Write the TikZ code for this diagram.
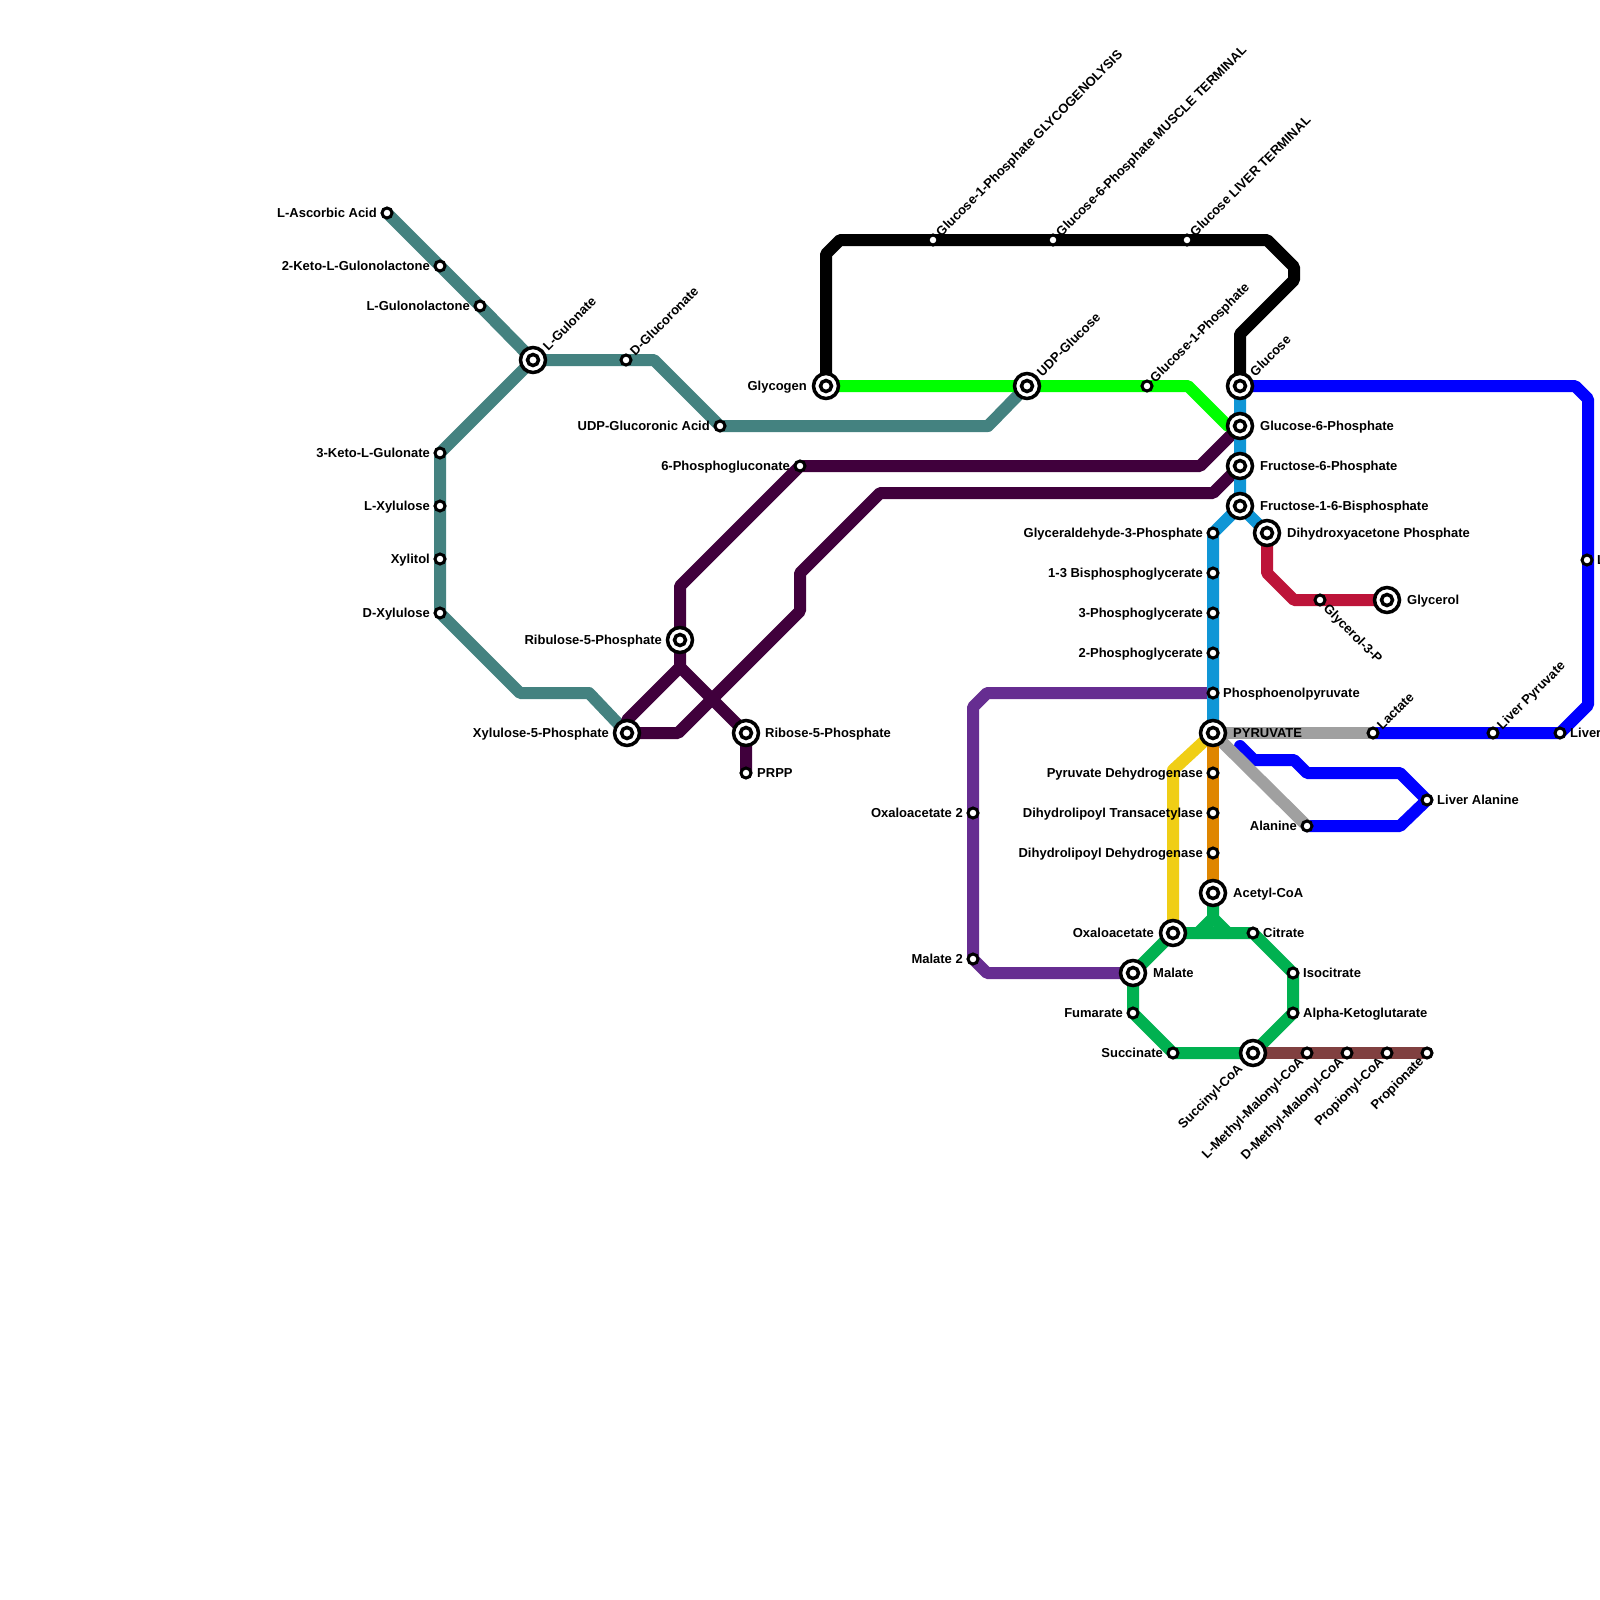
\documentclass[tikz,border=0pt]{standalone}
\usepackage{fontspec}
\setmainfont{Liberation Sans}
\pgfdeclarelayer{bg}
\pgfsetlayers{bg,main}
\definecolor{teal2}{RGB}{68,130,128}
\definecolor{dpurple}{RGB}{64,0,60}
\definecolor{lime2}{RGB}{0,255,0}
\definecolor{blue2}{RGB}{0,0,255}
\definecolor{cyan2}{RGB}{16,150,214}
\definecolor{crimson2}{RGB}{189,20,57}
\definecolor{purple2}{RGB}{102,45,145}
\definecolor{yellow2}{RGB}{240,206,21}
\definecolor{orange2}{RGB}{223,134,0}
\definecolor{green2}{RGB}{0,177,80}
\definecolor{grey2}{RGB}{160,160,160}
\definecolor{brown2}{RGB}{128,64,64}
\tikzset{
  ln/.style={line width=12pt, line cap=round, line join=round},
  st/.style={circle, draw=black, line width=3pt, fill=white, minimum size=10pt, inner sep=0pt},
  icout/.style={circle, draw=black, line width=3.5pt, fill=white, minimum size=25pt, inner sep=0pt},
  icin/.style={circle, draw=black, line width=3.5pt, fill=white, minimum size=11pt, inner sep=0pt},
  lbl/.style={font=\bfseries\fontsize{13}{15}\selectfont, inner sep=0pt, text height=9.3pt, text depth=0pt},
  L/.style={lbl, anchor=east},
  R/.style={lbl, anchor=west},
  U/.style={lbl, anchor=west, rotate=45},
  D/.style={lbl, anchor=east, rotate=45},
  DR/.style={lbl, anchor=west, rotate=-45}
}
\newcommand{\ic}[2]{\node[icout] (#1) at (#2) {}; \node[icin] (#1-i) at (#2) {};}
\begin{document}
\begin{tikzpicture}[x=1pt,y=-1pt]
\useasboundingbox (0,0) rectangle (1600,1600);
% ---------- stations ----------
% teal
\node[st] (asc) at (387,213) {};
\node[st] (kgl) at (440,266) {};
\node[st] (glt) at (480,306) {};
\ic{gul}{533,360}
\node[st] (dgc) at (626,360) {};
\node[st] (udpga) at (720,426) {};
\node[st] (kgu) at (440,453) {};
\node[st] (lxy) at (440,506) {};
\node[st] (xyl) at (440,559) {};
\node[st] (dxy) at (440,613) {};
\ic{x5p}{627,733}
% dark purple
\node[st] (pg6) at (800,466) {};
\ic{ru5p}{680,640}
\ic{r5p}{746,733}
\node[st] (prpp) at (746,773) {};
% black
\ic{glyc}{826,386}
\node[st] (g1pg) at (933,240) {};
\node[st] (g6pm) at (1053,240) {};
\node[st] (gliv) at (1187,240) {};
\ic{glu}{1240,386}
% lime
\ic{udpg}{1027,386}
\node[st] (g1p) at (1147,386) {};
% cyan
\ic{g6p}{1240,426}
\ic{f6p}{1240,466}
\ic{f16}{1240,506}
\node[st] (gap) at (1213,533) {};
\ic{dhap}{1267,533}
\node[st] (bpg) at (1213,573) {};
\node[st] (pg3) at (1213,613) {};
\node[st] (pg2) at (1213,653) {};
\node[st] (pep) at (1213,693) {};
\ic{pyr}{1213,733}
% red
\node[st] (g3p) at (1320,600) {};
\ic{glol}{1387,600}
% blue / grey
\node[st] (lac) at (1373,733) {};
\node[st] (lpyr) at (1493,733) {};
\node[st] (liv) at (1560,733) {};
\node[st] (lgl) at (1587,560) {};
\node[st] (lala) at (1427,800) {};
\node[st] (ala) at (1307,826) {};
% orange
\node[st] (pdh) at (1213,773) {};
\node[st] (dlt) at (1213,813) {};
\node[st] (dld) at (1213,853) {};
\ic{acoa}{1213,893}
% TCA
\ic{oaa}{1173,933}
\node[st] (cit) at (1253,933) {};
\node[st] (icit) at (1293,973) {};
\node[st] (akg) at (1293,1013) {};
\ic{scoa}{1253,1053}
\node[st] (succ) at (1173,1053) {};
\node[st] (fum) at (1133,1013) {};
\ic{mal}{1133,973}
% brown
\node[st] (lmm) at (1307,1053) {};
\node[st] (dmm) at (1347,1053) {};
\node[st] (ppc) at (1387,1053) {};
\node[st] (ppn) at (1427,1053) {};
% purple
\node[st] (oaa2) at (973,813) {};
\node[st] (mal2) at (973,959) {};
% ---------- lines ----------
\begin{pgfonlayer}{bg}
\fill[white] (0,0) rectangle (1600,1600);
\draw[ln, teal2] (asc.center) -- (kgl.center) -- (glt.center) -- (gul.center) -- (dgc.center) -- (654,360) -- (udpga.center) -- (988,426) -- (udpg.center);
\draw[ln, teal2] (gul.center) -- (kgu.center) -- (lxy.center) -- (xyl.center) -- (dxy.center) -- (520,693) -- (589,693) -- (x5p.center);
\draw[ln, dpurple] (g6p.center) -- (1200,466) -- (pg6.center) -- (680,586) -- (ru5p.center) -- (680,667) -- (627,720) -- (x5p.center);
\draw[ln, dpurple] (680,667) -- (r5p.center) -- (prpp.center);
\draw[ln, dpurple] (f6p.center) -- (1213,493) -- (880,493) -- (800,573) -- (800,611) -- (678,733) -- (x5p.center);
\draw[ln, black] (glyc.center) -- (826,254) -- (840,240) -- (g1pg.center) -- (g6pm.center) -- (gliv.center) -- (1267,240) -- (1294,267) -- (1294,280) -- (1240,334) -- (glu.center);
\draw[ln, lime2] (glyc.center) -- (udpg.center) -- (g1p.center) -- (1188,386) -- (1228,426) -- (g6p.center);
\draw[ln, blue2] (glu.center) -- (1575,386) -- (1588,399) -- (1588,705) -- (liv.center) -- (lpyr.center) -- (lac.center);
\draw[ln, blue2] (1240,746) -- (1254,760) -- (1294,760) -- (1307,773) -- (1400,773) -- (lala.center) -- (1400,826) -- (ala.center);
\draw[ln, grey2] (pyr.center) -- (lac.center);
\draw[ln, grey2] (pyr.center) -- (ala.center);
\draw[ln, purple2] (pep.center) -- (987,693) -- (973,707) -- (oaa2.center) -- (mal2.center) -- (987,973) -- (mal.center);
\draw[ln, cyan2] (glu.center) -- (g6p.center) -- (f6p.center) -- (f16.center) -- (gap.center) -- (bpg.center) -- (pg3.center) -- (pg2.center) -- (pep.center) -- (pyr.center);
\draw[ln, cyan2] (f16.center) -- (dhap.center);
\draw[ln, crimson2] (dhap.center) -- (1267,573) -- (1294,600) -- (g3p.center) -- (glol.center);
\draw[ln, yellow2] (pyr.center) -- (1173,770) -- (oaa.center);
\draw[ln, orange2] (pyr.center) -- (pdh.center) -- (dlt.center) -- (dld.center) -- (acoa.center);
\draw[ln, green2] (oaa.center) -- (cit.center) -- (icit.center) -- (akg.center) -- (scoa.center) -- (succ.center) -- (fum.center) -- (mal.center) -- cycle;
\draw[ln, green2] (acoa.center) -- (1213,918) -- (1198,933);
\draw[ln, green2] (1213,918) -- (1228,933);
\draw[ln, brown2] (scoa.center) -- (lmm.center) -- (dmm.center) -- (ppc.center) -- (ppn.center);
\end{pgfonlayer}
% ---------- labels ----------
\node[L] (t-asc) at (377,213) {L-Ascorbic Acid};
\node[L] (t-kgl) at (430,266) {2-Keto-L-Gulonolactone};
\node[L] (t-glt) at (470,306) {L-Gulonolactone};
\node[U] (t-gul) at (545,348) {L-Gulonate};
\node[U] (t-dgc) at (632,353) {D-Glucoronate};
\node[L] (t-udpga) at (710,426) {UDP-Glucoronic Acid};
\node[L] (t-kgu) at (430,453) {3-Keto-L-Gulonate};
\node[L] (t-lxy) at (430,506) {L-Xylulose};
\node[L] (t-xyl) at (430,559) {Xylitol};
\node[L] (t-dxy) at (430,613) {D-Xylulose};
\node[L] (t-x5p) at (609,733) {Xylulose-5-Phosphate};
\node[L] (t-pg6) at (790,466) {6-Phosphogluconate};
\node[L] (t-ru5p) at (662,640) {Ribulose-5-Phosphate};
\node[R] (t-r5p) at (765,733) {Ribose-5-Phosphate};
\node[R] (t-prpp) at (757,773) {PRPP};
\node[L] (t-glyc) at (807,386) {Glycogen};
\node[U] (t-g1pg) at (938,234) {Glucose-1-Phosphate GLYCOGENOLYSIS};
\node[U] (t-g6pm) at (1058,234) {Glucose-6-Phosphate MUSCLE TERMINAL};
\node[U] (t-gliv) at (1192,234) {Glucose LIVER TERMINAL};
\node[U] (t-glu) at (1252,374) {Glucose};
\node[U] (t-udpg) at (1039,374) {UDP-Glucose};
\node[U] (t-g1p) at (1152,380) {Glucose-1-Phosphate};
\node[R] (t-g6p) at (1260,426) {Glucose-6-Phosphate};
\node[R] (t-f6p) at (1260,466) {Fructose-6-Phosphate};
\node[R] (t-f16) at (1260,506) {Fructose-1-6-Bisphosphate};
\node[L] (t-gap) at (1203,533) {Glyceraldehyde-3-Phosphate};
\node[R] (t-dhap) at (1287,533) {Dihydroxyacetone Phosphate};
\node[L] (t-bpg) at (1203,573) {1-3 Bisphosphoglycerate};
\node[L] (t-pg3) at (1203,613) {3-Phosphoglycerate};
\node[L] (t-pg2) at (1203,653) {2-Phosphoglycerate};
\node[R] (t-pep) at (1223,693) {Phosphoenolpyruvate};
\node[R] (t-pyr) at (1233,733) {PYRUVATE};
\node[DR] (t-g3p) at (1326,606) {Glycerol-3-P};
\node[R] (t-glol) at (1407,600) {Glycerol};
\node[U] (t-lac) at (1379,727) {Lactate};
\node[U] (t-lpyr) at (1499,727) {Liver Pyruvate};
\node[R] (t-liv) at (1570,733) {Liver Lactate};
\node[R] (t-lgl) at (1597,560) {Liver Glucose};
\node[R] (t-lala) at (1437,800) {Liver Alanine};
\node[L] (t-ala) at (1297,826) {Alanine};
\node[L] (t-pdh) at (1203,773) {Pyruvate Dehydrogenase};
\node[L] (t-dlt) at (1203,813) {Dihydrolipoyl Transacetylase};
\node[L] (t-dld) at (1203,853) {Dihydrolipoyl Dehydrogenase};
\node[R] (t-acoa) at (1233,893) {Acetyl-CoA};
\node[L] (t-oaa) at (1154,933) {Oxaloacetate};
\node[R] (t-cit) at (1263,933) {Citrate};
\node[R] (t-icit) at (1303,973) {Isocitrate};
\node[R] (t-akg) at (1303,1013) {Alpha-Ketoglutarate};
\node[R] (t-mal) at (1153,973) {Malate};
\node[L] (t-fum) at (1123,1013) {Fumarate};
\node[L] (t-succ) at (1163,1053) {Succinate};
\node[D] (t-scoa) at (1240,1066) {Succinyl-CoA};
\node[D] (t-lmm) at (1301,1059) {L-Methyl-Malonyl-CoA};
\node[D] (t-dmm) at (1341,1059) {D-Methyl-Malonyl-CoA};
\node[D] (t-ppc) at (1381,1059) {Propionyl-CoA};
\node[D] (t-ppn) at (1421,1059) {Propionate};
\node[L] (t-oaa2) at (963,813) {Oxaloacetate 2};
\node[L] (t-mal2) at (963,959) {Malate 2};
\end{tikzpicture}
\end{document}
